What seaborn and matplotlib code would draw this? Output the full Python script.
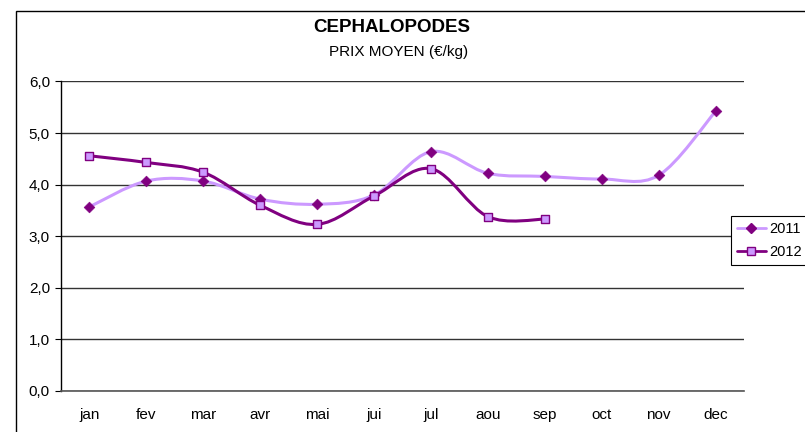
import matplotlib
matplotlib.use("Agg")
import matplotlib.pyplot as plt
import seaborn as sns
import numpy as np
import pandas as pd
from matplotlib.path import Path
from matplotlib.patches import PathPatch, Rectangle
from matplotlib.lines import Line2D
from matplotlib.ticker import FuncFormatter

months = ["jan", "fev", "mar", "avr", "mai", "jui", "jul", "aou", "sep", "oct", "nov", "dec"]
prix_2011 = [3.57, 4.07, 4.07, 3.72, 3.62, 3.80, 4.64, 4.22, 4.16, 4.11, 4.18, 5.42]
prix_2012 = [4.56, 4.43, 4.24, 3.60, 3.23, 3.78, 4.31, 3.38, 3.33]

light = "#CC99FF"
dark = "#800080"

sns.set_style("white", {"text.color": "black", "xtick.color": "black", "ytick.color": "black"})
plt.rcParams['font.family'] = ['Liberation Sans', 'DejaVu Sans']


def smooth_path(xs, ys):
    # excel-like smoothed line: cubic bezier segments, tension 1/6
    pts = np.column_stack([xs, ys])
    n = len(pts)
    verts = [pts[0]]
    codes = [Path.MOVETO]
    for i in range(n - 1):
        p0 = pts[i - 1] if i > 0 else pts[i]
        p1 = pts[i]
        p2 = pts[i + 1]
        p3 = pts[i + 2] if i + 2 < n else pts[i + 1]
        verts += [p1 + (p2 - p0) / 6, p2 - (p3 - p1) / 6, p2]
        codes += [Path.CURVE4] * 3
    return Path(verts, codes)


fig = plt.figure(figsize=(8.05, 4.32), dpi=100)
ax = fig.add_axes([61 / 805, 41 / 432, 683 / 805, 309.5 / 432])

# outer chart frame
fig.patches.append(Rectangle((16 / 805, -0.1), 1.1, (421 / 432) + 0.1, transform=fig.transFigure,
                             fill=False, edgecolor="black", linewidth=1.0))

df11 = pd.DataFrame({"x": np.arange(len(prix_2011)), "prix": prix_2011})
df12 = pd.DataFrame({"x": np.arange(len(prix_2012)), "prix": prix_2012})

ax.add_patch(PathPatch(smooth_path(df11["x"], df11["prix"]), fill=False, edgecolor=light, lw=2.2, zorder=3))
ax.add_patch(PathPatch(smooth_path(df12["x"], df12["prix"]), fill=False, edgecolor=dark, lw=2.2, zorder=3))

sns.scatterplot(data=df11, x="x", y="prix", marker="D", s=30, color=dark, edgecolor=dark, ax=ax, zorder=4)
sns.scatterplot(data=df12, x="x", y="prix", marker="s", s=36, color=light, edgecolor=dark, linewidth=1.0, ax=ax, zorder=4)

ax.set_xlim(-0.5, 11.5)
ax.set_ylim(0, 6)
ax.set_xlabel("")
ax.set_ylabel("")

ax.set_xticks(np.arange(-0.5, 12, 1))
ax.set_xticklabels([])
ax.set_xticks(np.arange(12), minor=True)
ax.set_xticklabels(months, minor=True)
ax.tick_params(axis="x", which="major", direction="out", length=4, width=0.8, color="#555555")
ax.tick_params(axis="x", which="minor", length=0, pad=12, labelsize=11, labelcolor="black")

ax.set_yticks(np.arange(0, 6.1, 1))
ax.yaxis.set_major_formatter(FuncFormatter(lambda v, p: f"{v:.1f}".replace(".", ",")))
ax.tick_params(axis="y", direction="out", length=4, width=0.8, pad=4, labelsize=11, left=True,
               color="black", labelcolor="black")

ax.grid(axis="y", color="#333333", linewidth=1.0)
ax.set_axisbelow(True)
for side in ["top", "right"]:
    ax.spines[side].set_visible(False)
ax.spines["left"].set_color("black")
ax.spines["left"].set_linewidth(1.0)
ax.spines["bottom"].set_color("#555555")
ax.spines["bottom"].set_linewidth(1.2)

fig.text(392 / 805, 1 - 28 / 432, "CEPHALOPODES", ha="center", va="center", fontsize=13.5,
         fontweight="bold", color="black")
fig.text(399 / 805, 1 - 52 / 432, "PRIX MOYEN (€/kg)", ha="center", va="center", fontsize=11, color="black")

handles = [
    Line2D([], [], color=light, lw=2, marker="D", markersize=5, markerfacecolor=dark, markeredgecolor=dark),
    Line2D([], [], color=dark, lw=2, marker="s", markersize=5.5, markerfacecolor=light, markeredgecolor=dark),
]
leg = fig.legend(handles, ["2011", "2012"], loc="upper left", bbox_to_anchor=(731 / 805, 1 - 216 / 432),
                 frameon=True, fancybox=False, framealpha=1, edgecolor="black", fontsize=10.5,
                 handlelength=2.0, handletextpad=0.22, borderpad=0.4, borderaxespad=0,
                 labelspacing=0.65, labelcolor="black")
leg.get_frame().set_linewidth(0.8)

fig.savefig("out.png", dpi=100)
